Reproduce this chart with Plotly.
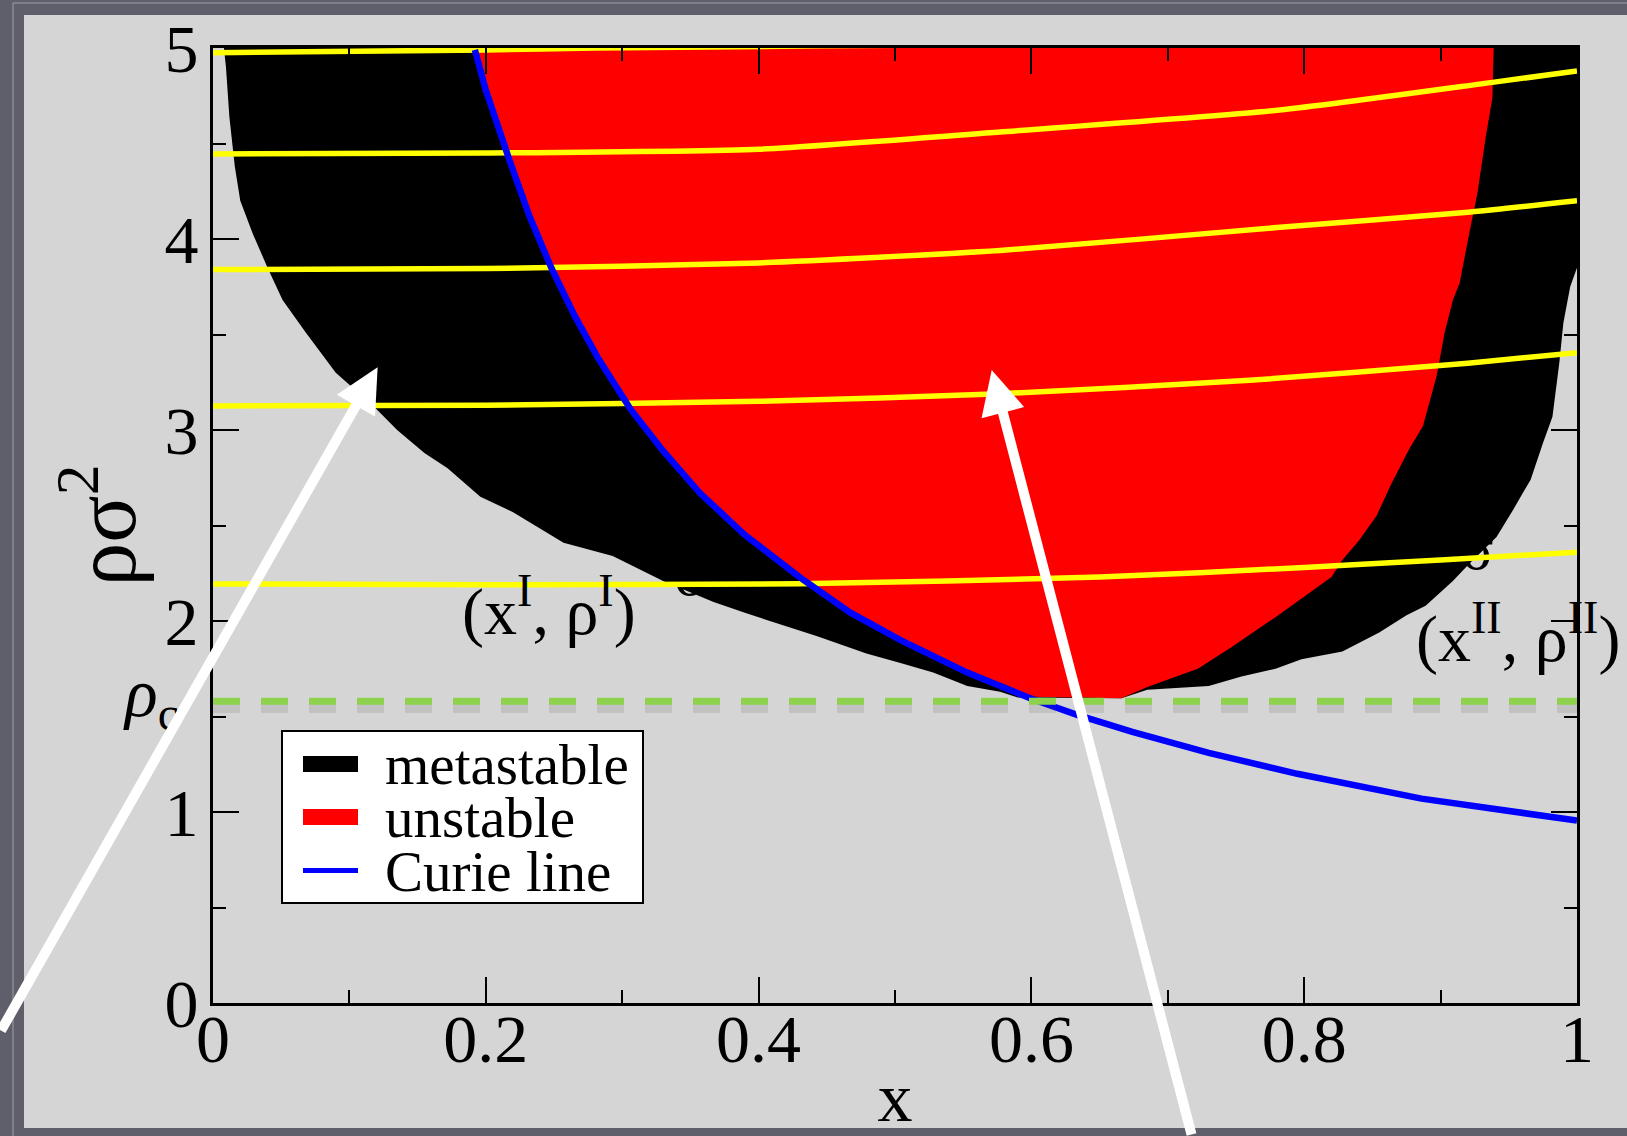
import plotly.graph_objects as go

# ------------------------------------------------------------------ data
x_tick_vals = [0, 0.2, 0.4, 0.6, 0.8, 1.0]
x_tick_text = ["0", "0.2", "0.4", "0.6", "0.8", "1"]
x_minor_vals = [0.1, 0.3, 0.5, 0.7, 0.9]
y_tick_vals = [0, 1, 2, 3, 4, 5]
y_tick_text = ["0", "1", "2", "3", "4", "5"]
y_minor_vals = [0.5, 1.5, 2.5, 3.5, 4.5]

# metastable region (inside the binodal), closed outline
metastable_x = [0.006, 0.008, 0.0095, 0.012, 0.016, 0.020, 0.029, 0.040, 0.051, 0.068,
                0.090, 0.117, 0.135, 0.155, 0.172, 0.196, 0.220, 0.257, 0.293, 0.330,
                0.367, 0.391, 0.443, 0.479, 0.504, 0.528, 0.553, 0.577, 0.590, 0.666,
                0.685, 0.730, 0.754, 0.779, 0.798, 0.828, 0.855, 0.875, 0.889, 0.909,
                0.921, 0.941, 0.953, 0.966, 0.975, 0.982, 0.987, 0.990, 0.995, 1.000, 1.000]
metastable_rho = [5.03, 5.00, 4.90, 4.64, 4.38, 4.20, 4.03, 3.85, 3.68, 3.51,
                  3.30, 3.13, 3.00, 2.88, 2.80, 2.65, 2.57, 2.41, 2.34, 2.21,
                  2.10, 2.04, 1.92, 1.83, 1.78, 1.73, 1.66, 1.63, 1.60, 1.595,
                  1.64, 1.66, 1.71, 1.75, 1.80, 1.84, 1.94, 2.03, 2.08, 2.21,
                  2.30, 2.44, 2.58, 2.74, 2.93, 3.07, 3.35, 3.56, 3.75, 3.85, 5.03]

# unstable region (inside the spinodal), closed outline
unstable_x = [0.190, 0.200, 0.217, 0.232, 0.248, 0.265, 0.282, 0.306, 0.330, 0.357,
              0.390, 0.430, 0.467, 0.504, 0.553, 0.590, 0.666, 0.685, 0.722, 0.746,
              0.781, 0.806, 0.820, 0.828, 0.840, 0.853, 0.864, 0.877, 0.887, 0.897,
              0.903, 0.909, 0.914, 0.921, 0.927, 0.933, 0.938, 0.939]
unstable_rho = [5.03, 4.78, 4.42, 4.12, 3.85, 3.60, 3.38, 3.11, 2.89, 2.67,
                2.45, 2.23, 2.045, 1.90, 1.73, 1.605, 1.595, 1.655, 1.75, 1.86,
                2.03, 2.16, 2.23, 2.32, 2.42, 2.55, 2.72, 2.90, 3.02, 3.28,
                3.51, 3.68, 3.77, 4.03, 4.24, 4.53, 4.74, 5.03]

# Curie line
curie_x = [0.192, 0.200, 0.217, 0.232, 0.248, 0.265, 0.282, 0.306, 0.330, 0.357, 0.390,
           0.430, 0.467, 0.504, 0.553, 0.601, 0.633, 0.674, 0.730, 0.795, 0.886, 0.950, 1.000]
curie_rho = [4.99, 4.78, 4.42, 4.12, 3.85, 3.60, 3.38, 3.11, 2.89, 2.67, 2.45,
             2.23, 2.045, 1.90, 1.73, 1.59, 1.51, 1.42, 1.31, 1.20, 1.07, 1.005, 0.955]

# yellow lines
line1_x = [0, 0.2, 0.28, 0.6, 0.9, 1.0]
line1_rho = [4.975, 4.99, 5.0, 5.02, 5.03, 5.05]
line2_x = [0, 0.2, 0.4, 0.577, 0.782, 0.938, 1.0]
line2_rho = [4.445, 4.45, 4.47, 4.56, 4.675, 4.82, 4.88]
line3_x = [0, 0.2, 0.4, 0.577, 0.78, 0.92, 1.0]
line3_rho = [3.84, 3.845, 3.875, 3.94, 4.06, 4.14, 4.2]
line4_x = [0, 0.2, 0.4, 0.577, 0.76, 0.92, 1.0]
line4_rho = [3.126, 3.13, 3.15, 3.19, 3.26, 3.35, 3.405]
line5_x = [0, 0.2, 0.43, 0.65, 0.8, 0.9, 1.0]
line5_rho = [2.194, 2.19, 2.195, 2.23, 2.28, 2.32, 2.36]

rho_c = 1.58
legend_labels = ["metastable", "unstable", "Curie line"]

# glyph fragments lying under the metastable region
hidden_x = [0.35, 0.927]
hidden_rho = [2.216, 2.352]
hidden_text = ["σ", "σ"]

# arrows: (head x, head rho, tail x, tail rho)
arrow1 = (0.1207, 3.328, -0.156, -0.152)
arrow2 = (0.5709, 3.314, 0.7177, -0.696)

# ------------------------------------------------------------------ styling
FONT = "Liberation Serif, Times New Roman, serif"
W, H = 1627, 1136
ML, MR, MT, MB = 213, 50, 48, 133
PW, PH = W - ML - MR, H - MT - MB
BG = "#d5d5d5"
FRAME = "#5e5f6a"
FRAME_LIGHT = "#8a8a92"


def px(X, Y):
    """pixel position -> paper coordinates"""
    return (X - ML) / PW, (H - MB - Y) / PH


fig = go.Figure()

fig.add_trace(go.Scatter(x=hidden_x, y=hidden_rho, mode="text", text=hidden_text,
                         textposition="middle center",
                         textfont=dict(family=FONT, size=60, color="black"),
                         showlegend=False, hoverinfo="skip"))

fig.add_trace(go.Scatter(x=metastable_x, y=metastable_rho, mode="lines", fill="toself",
                         fillcolor="#000000", line=dict(width=0, color="#000000"),
                         name=legend_labels[0], showlegend=False, hoverinfo="skip"))
fig.add_trace(go.Scatter(x=unstable_x, y=unstable_rho, mode="lines", fill="toself",
                         fillcolor="#ff0000", line=dict(width=0, color="#ff0000"),
                         name=legend_labels[1], showlegend=False, hoverinfo="skip"))

for lx, ly in [(line1_x, line1_rho), (line2_x, line2_rho), (line3_x, line3_rho),
               (line4_x, line4_rho), (line5_x, line5_rho)]:
    fig.add_trace(go.Scatter(x=lx, y=ly, mode="lines",
                             line=dict(color="#ffff00", width=5.5, shape="spline", smoothing=0.6),
                             showlegend=False, hoverinfo="skip"))

fig.add_trace(go.Scatter(x=curie_x, y=curie_rho, mode="lines",
                         line=dict(color="#0000ff", width=6.5),
                         name=legend_labels[2], showlegend=False, hoverinfo="skip"))

# soft shadow + dashed rho_c line
SHADOW = 0.035
fig.add_trace(go.Scatter(x=[0, 1], y=[rho_c - SHADOW, rho_c - SHADOW], mode="lines",
                         line=dict(color="rgba(70,70,70,0.13)", width=10, dash="27px,21px"),
                         showlegend=False, hoverinfo="skip"))
fig.add_trace(go.Scatter(x=[0, 1], y=[rho_c, rho_c], mode="lines",
                         line=dict(color="#8cd24c", width=7, dash="27px,21px"),
                         showlegend=False, hoverinfo="skip"))

# ------------------------------------------------------------------ frame of the slide
shapes = []


def rect_px(X0, Y0, X1, Y1, fill, line_color=None, line_width=0, layer="below"):
    x0, y0 = px(X0, Y0)
    x1, y1 = px(X1, Y1)
    return dict(type="rect", xref="paper", yref="paper", x0=x0, y0=y1, x1=x1, y1=y0,
                fillcolor=fill, line=dict(color=line_color or fill, width=line_width),
                layer=layer)


def line_px(X0, Y0, X1, Y1, color, width, layer="below"):
    x0, y0 = px(X0, Y0)
    x1, y1 = px(X1, Y1)
    return dict(type="line", xref="paper", yref="paper", x0=x0, y0=y0, x1=x1, y1=y1,
                line=dict(color=color, width=width), layer=layer)


shapes.append(rect_px(0, 0, W, 15, FRAME))
shapes.append(rect_px(0, 0, 24, H, FRAME))
shapes.append(rect_px(0, 1128, W, H, FRAME))
shapes.append(line_px(13, 3, 13, H, FRAME_LIGHT, 1.5))
shapes.append(line_px(13, 3, W, 3, FRAME_LIGHT, 1.5))

# legend box
shapes.append(rect_px(282, 731, 643, 903, "#ffffff", "#000000", 2, layer="above"))
shapes.append(rect_px(303, 756, 358, 772, "#000000", layer="above"))
shapes.append(rect_px(303, 809, 358, 825, "#ff0000", layer="above"))
shapes.append(line_px(303, 870.5, 358, 870.5, "#0000ff", 5, layer="above"))

annotations = []
for label, yc in zip(legend_labels, [764, 817, 871]):
    ax_, ay_ = px(384, yc)
    annotations.append(dict(xref="paper", yref="paper", x=ax_, y=ay_, text=label,
                            xanchor="left", yanchor="middle", showarrow=False,
                            borderpad=0,
                            font=dict(family=FONT, size=57, color="black")))

# point labels
lx, ly = px(549, 650)
annotations.append(dict(xref="paper", yref="paper", x=lx, y=ly,
                        text="(x<sup>I</sup>, ρ<sup>I</sup>)", xanchor="center",
                        yanchor="bottom", showarrow=False, borderpad=0,
                        font=dict(family=FONT, size=66, color="black")))
lx, ly = px(1518, 677)
annotations.append(dict(xref="paper", yref="paper", x=lx, y=ly,
                        text="(x<sup>II</sup>, ρ<sup>II</sup>)", xanchor="center",
                        yanchor="bottom", showarrow=False, borderpad=0,
                        font=dict(family=FONT, size=66, color="black")))
# rho_c label
lx, ly = px(180, 697)
annotations.append(dict(xref="paper", yref="paper", x=lx, y=ly,
                        text="<i>ρ</i><sub>c</sub>", xanchor="right",
                        yanchor="middle", showarrow=False, borderpad=0,
                        font=dict(family=FONT, size=68, color="black")))

# white arrows
for hx, hy, tx, ty in [arrow1, arrow2]:
    annotations.append(dict(x=hx, y=hy, xref="x", yref="y", ax=tx, ay=ty,
                            axref="x", ayref="y", text="", showarrow=True,
                            arrowhead=2, arrowsize=0.88, arrowwidth=10,
                            arrowcolor="#ffffff", standoff=0, startstandoff=0))

axis_common = dict(showline=True, linecolor="black", linewidth=3, mirror="ticks",
                   ticks="inside", ticklen=26, tickwidth=2, tickcolor="black",
                   showgrid=False, zeroline=False, automargin=False,
                   tickfont=dict(family=FONT, size=68, color="black"))

fig.update_layout(
    width=W, height=H,
    margin=dict(l=ML, r=MR, t=MT, b=MB, pad=0, autoexpand=False),
    paper_bgcolor=BG, plot_bgcolor=BG,
    showlegend=False,
    xaxis=dict(range=[0, 1], tickmode="array", tickvals=x_tick_vals, ticktext=x_tick_text,
               minor=dict(tickmode="array", tickvals=x_minor_vals, ticks="inside",
                          ticklen=13, tickwidth=2, tickcolor="black", showgrid=False),
               title=dict(text="x", font=dict(family=FONT, size=70, color="black"),
                          standoff=0),
               ticklabelstandoff=-26,
               **axis_common),
    yaxis=dict(range=[0, 5], tickmode="array", tickvals=y_tick_vals, ticktext=y_tick_text,
               minor=dict(tickmode="array", tickvals=y_minor_vals, ticks="inside",
                          ticklen=13, tickwidth=2, tickcolor="black", showgrid=False),
               title=dict(text="ρσ<sup>2</sup>", font=dict(family=FONT, size=88, color="black"),
                          standoff=0),
               ticklabelstandoff=-2,
               **axis_common),
    shapes=shapes,
    annotations=annotations,
)

fig.write_html(
    "out.html",
    config={"displayModeBar": False},
    post_script=("document.documentElement.style.margin='0';"
                 "document.body.style.margin='0';document.body.style.padding='0';"
                 "document.documentElement.style.overflow='hidden';"
                 "document.body.style.overflow='hidden';"),
)
